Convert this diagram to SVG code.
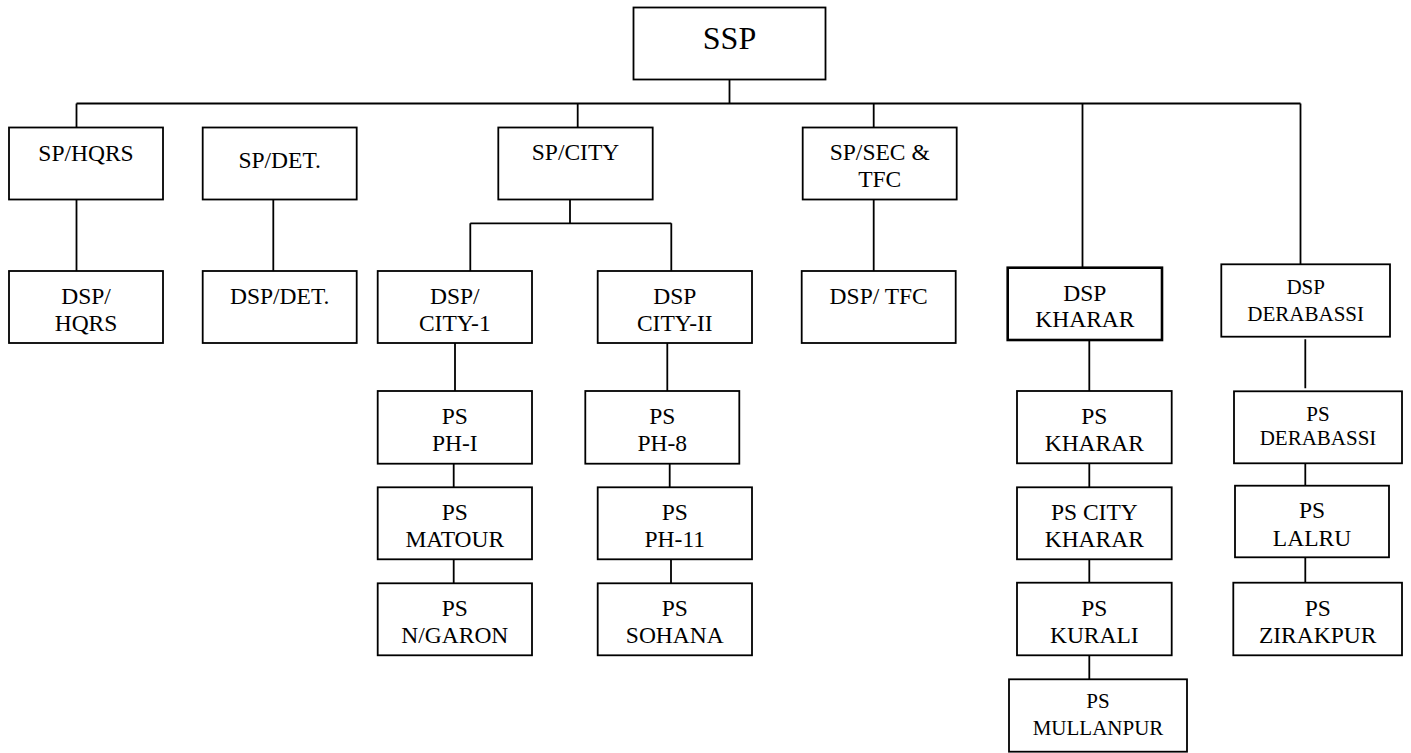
<svg xmlns="http://www.w3.org/2000/svg" width="1411" height="753" viewBox="0 0 1411 753">
<style>
rect.b{fill:#fff;stroke:#000;stroke-width:1.8}
rect.k{stroke-width:2.6}
text{font-family:"Liberation Serif","Times New Roman",serif;font-size:23.5px;fill:#000;text-anchor:middle}
text.s{font-size:21px}
text.big{font-size:32px}
#connectors path{fill:none;stroke:#000;stroke-width:1.8}
</style>
<rect width="1411" height="753" fill="#fff"/>
<g id="connectors">
<path d="M729.5,80 V103.5 M76.5,103.5 H1300.5 M76.5,103.5 V127.5 M577.7,103.5 V127.5 M873.7,103.5 V127.5 M1082.5,103.5 V268 M1300.5,103.5 V264.5"/>
<path d="M76.5,199.5 V271 M273.3,199.5 V271 M873.7,199.5 V271"/>
<path d="M570,199.5 V223.3 M470.3,223.3 H671.3 M470.3,223.3 V271 M671.3,223.3 V271"/>
<path d="M455,343 V391 M453.7,463.7 V487.3 M453.7,559.3 V583.3"/>
<path d="M667.3,343 V391 M669.7,463.7 V487.3 M671,559.3 V583.3"/>
<path d="M1089.3,340 V391 M1089.3,463.3 V487.3 M1089.3,559.3 V582.7 M1089.3,655.3 V679.3"/>
<path d="M1305.3,339.3 V388.3 M1305.3,463.3 V485.7 M1305.3,557.3 V582.7"/>
</g>
<g id="ssp"><rect class="b" x="633.5" y="7.5" width="192" height="72"/><text class="big" x="729.5" y="49">SSP</text></g>
<g id="sp-hqrs"><rect class="b" x="9" y="127.5" width="154" height="72"/><text x="86" y="160.7">SP/HQRS</text></g>
<g id="sp-det"><rect class="b" x="202.7" y="127.5" width="154" height="72"/><text x="279.7" y="168.3">SP/DET.</text></g>
<g id="sp-city"><rect class="b" x="498.3" y="127.5" width="154.4" height="72"/><text x="575.5" y="160">SP/CITY</text></g>
<g id="sp-sec-tfc"><rect class="b" x="802.7" y="127.5" width="154" height="72"/><text x="879.7" y="160">SP/SEC &amp;</text><text x="879.7" y="186.7">TFC</text></g>
<g id="dsp-hqrs"><rect class="b" x="9" y="271" width="154" height="72"/><text x="86" y="304.3">DSP/</text><text x="86" y="331">HQRS</text></g>
<g id="dsp-det"><rect class="b" x="202.7" y="271" width="154" height="72"/><text x="279.7" y="304.3">DSP/DET.</text></g>
<g id="dsp-city-1"><rect class="b" x="377.7" y="271" width="154.3" height="72"/><text x="454.8" y="304">DSP/</text><text x="454.8" y="330.7">CITY-1</text></g>
<g id="dsp-city-2"><rect class="b" x="597.7" y="271" width="154.3" height="72"/><text x="674.8" y="304">DSP</text><text x="674.8" y="330.7">CITY-II</text></g>
<g id="dsp-tfc"><rect class="b" x="801.7" y="271" width="154" height="72"/><text x="878.7" y="304.3">DSP/ TFC</text></g>
<g id="dsp-kharar"><rect class="b k" x="1007.7" y="267.7" width="154.3" height="72.3"/><text x="1084.9" y="300.7">DSP</text><text x="1084.9" y="326.7">KHARAR</text></g>
<g id="dsp-derabassi"><rect class="b" x="1221.3" y="264.3" width="168.7" height="72.4"/><text class="s" x="1305.7" y="294.3">DSP</text><text class="s" x="1305.7" y="320.7">DERABASSI</text></g>
<g id="ps-ph-1"><rect class="b" x="377.7" y="391" width="154.3" height="72.7"/><text x="454.8" y="424.3">PS</text><text x="454.8" y="450.7">PH-I</text></g>
<g id="ps-matour"><rect class="b" x="377.7" y="487.3" width="154.3" height="72"/><text x="454.8" y="520">PS</text><text x="454.8" y="546.7">MATOUR</text></g>
<g id="ps-ngaron"><rect class="b" x="377.7" y="583.3" width="154.3" height="72"/><text x="454.8" y="616">PS</text><text x="454.8" y="642.7">N/GARON</text></g>
<g id="ps-ph-8"><rect class="b" x="585.3" y="391" width="154" height="72.7"/><text x="662.3" y="424.3">PS</text><text x="662.3" y="450.7">PH-8</text></g>
<g id="ps-ph-11"><rect class="b" x="597.7" y="487.3" width="154.3" height="72"/><text x="674.8" y="520">PS</text><text x="674.8" y="546.7">PH-11</text></g>
<g id="ps-sohana"><rect class="b" x="597.7" y="583.3" width="154.3" height="72"/><text x="674.8" y="616">PS</text><text x="674.8" y="642.7">SOHANA</text></g>
<g id="ps-kharar"><rect class="b" x="1017" y="391" width="154.7" height="72.3"/><text x="1094.3" y="424">PS</text><text x="1094.3" y="450.7">KHARAR</text></g>
<g id="ps-city-kharar"><rect class="b" x="1017" y="487.3" width="154.7" height="72"/><text x="1094.3" y="520">PS CITY</text><text x="1094.3" y="546.7">KHARAR</text></g>
<g id="ps-kurali"><rect class="b" x="1017" y="582.7" width="154.7" height="72.6"/><text x="1094.3" y="616">PS</text><text x="1094.3" y="642.7">KURALI</text></g>
<g id="ps-mullanpur"><rect class="b" x="1009" y="679.3" width="178" height="72.4"/><text class="s" x="1098" y="708.3">PS</text><text class="s" x="1098" y="735">MULLANPUR</text></g>
<g id="ps-derabassi"><rect class="b" x="1234" y="391.3" width="168" height="72"/><text class="s" x="1318" y="420.7">PS</text><text class="s" x="1318" y="445">DERABASSI</text></g>
<g id="ps-lalru"><rect class="b" x="1235" y="485.7" width="154" height="71.6"/><text x="1312" y="518.3">PS</text><text x="1312" y="545.7">LALRU</text></g>
<g id="ps-zirakpur"><rect class="b" x="1233.3" y="582.7" width="168.7" height="72.6"/><text x="1317.7" y="616">PS</text><text x="1317.7" y="642.7">ZIRAKPUR</text></g>
</svg>
